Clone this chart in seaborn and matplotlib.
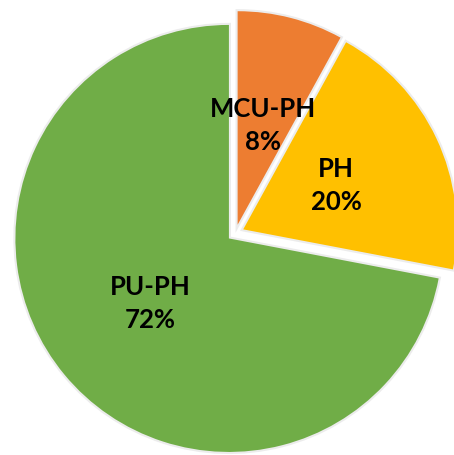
import matplotlib.pyplot as plt
import matplotlib.patheffects as pe
import seaborn as sns

# Slice data (clockwise from 12 o'clock)
categories = ["MCU-PH", "PH", "PU-PH"]
shares = [8, 20, 72]
colors = ["#ED7D31", "#FFC000", "#70AD47"]

sns.set_style("white")
plt.rcParams["font.family"] = ["Lato", "DejaVu Sans"]

fig = plt.figure(figsize=(4.54, 4.55), dpi=100)
ax = fig.add_axes([0, 0, 1, 1])

wedges, texts, autotexts = ax.pie(
    shares,
    colors=colors,
    startangle=90,
    counterclock=False,
    explode=[0.04] * len(shares),
    autopct=lambda p: "",
    pctdistance=0.48,
    wedgeprops={
        "linewidth": 0,
        "path_effects": [pe.Stroke(linewidth=3, foreground="#ececec"), pe.Normal()],
    },
)

for t, lab, v in zip(autotexts, categories, shares):
    t.set_text(f"{lab}\n{v}%")
    t.set_fontsize(18.5)
    t.set_fontweight("bold")
    t.set_color("black")
    t.set_linespacing(1.45)

# frame so the pie is cropped like the source picture
ax.set_xlim(-1.1030, 1.0234)
ax.set_ylim(-1.0398, 1.0913)
ax.set_aspect("equal")
ax.axis("off")

fig.savefig("out.png", dpi=100, facecolor="white")
